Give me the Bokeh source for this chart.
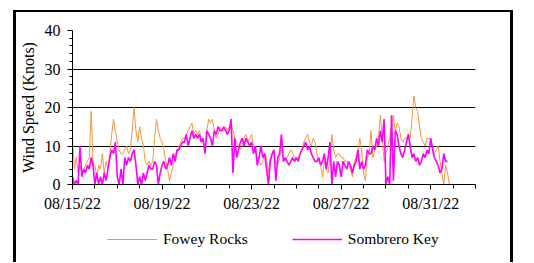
import pandas as pd
from bokeh.plotting import figure
from bokeh.layouts import column
from bokeh.models import (FixedTicker, DatetimeTickFormatter, Legend, LegendItem,
                          Range1d)
from bokeh.embed import file_html
from bokeh.resources import INLINE

# ---- data (2-hourly readings, knots) ----
start = "2022-08-15 00:00"
fowey_rocks = [
    12, 4, 7, 3, 5, 3, 4, 5, 6, 7, 19, 6,
    5, 2, 5, 4, 8, 3, 6, 4, 8, 13, 17, 14,
    11, 9, 8, 8, 9, 10, 8, 9, 14, 20, 14, 11,
    15, 12, 10, 6, 5, 6, 5, 6, 12, 17, 14, 12,
    11, 9, 6, 4, 1, 3, 5, 8, 8, 10, 11, 12,
    12, 13, 14, 15, 16, 13, 14, 13, 14, 12, 11, 9,
    14, 17, 16, 17, 14, 12, 13, 15, 14, 14, 15, 14,
    15, 16, 14, 12, 11, 10, 9, 10, 12, 13, 11, 12,
    13, 10, 9, 7, 6, 5, 6, 8, 7, 3, 7, 8,
    8, 6, 5, 7, 9, 7, 6, 7, 8, 9, 8, 7,
    7, 7, 8, 9, 11, 12, 13, 11, 10, 12, 11, 8,
    6, 5, 2, 6, 4, 3, 7, 13, 9, 7, 8, 8,
    7, 7, 6, 6, 5, 4, 2, 6, 7, 9, 12, 9,
    3, 1, 7, 8, 14, 7, 9, 10, 12, 18, 12, 6,
    8, 10, 12, 15, 18, 14, 16, 15, 12, 11, 12, 12,
    13, 12, 17, 23, 20, 19, 15, 12, 11, 10, 12, 12,
    12, 10, 8, 9, 10, 6, 3, 0, 5, 3, 0,
]
sombrero_key = [
    2, 0, 1, 0, 10, 2, 4, 3, 5, 4, 7, 5,
    0, 3, 0, 2, 0, 3, 1, 4, 7, 9, 8, 11,
    2, 0, 4, 0, 7, 5, 7, 6, 8, 9, 5, 0,
    2, 0, 3, 1, 3, 5, 4, 4, 6, 5, 0, 3,
    5, 6, 4, 5, 7, 5, 8, 6, 9, 9, 10, 11,
    11, 13, 10, 12, 14, 12, 13, 12, 13, 11, 12, 8,
    14, 13, 12, 10, 14, 13, 15, 14, 14, 15, 14, 13,
    14, 17, 3, 12, 7, 9, 11, 12, 10, 12, 11, 10,
    11, 8, 10, 5, 7, 10, 7, 8, 4, 0, 6, 8,
    9, 1, 7, 8, 13, 6, 7, 6, 5, 6, 7, 6,
    7, 6, 8, 9, 10, 11, 9, 10, 8, 7, 6, 6,
    7, 5, 6, 8, 4, 7, 11, 0, 6, 2, 6, 5,
    2, 6, 5, 4, 6, 5, 3, 5, 6, 9, 4, 6,
    4, 5, 9, 8, 8, 10, 9, 12, 10, 14, 11, 17,
    0, 2, 0, 18, 1, 14, 13, 10, 8, 7, 9, 11,
    13, 10, 7, 8, 6, 7, 5, 6, 8, 7, 9, 8,
    12, 9, 7, 6, 5, 3, 4, 8, 6, 6,
]
series_names = ["Fowey Rocks", "Sombrero Key"]
series_colors = ["#F7963F", "#FF00FF"]
series_widths = [1, 1.6]
y_title = "Wind Speed (Knots)"
x_tick_dates = ["2022-08-15", "2022-08-19", "2022-08-23", "2022-08-27", "2022-08-31"]
y_ticks = [0, 10, 20, 30, 40]
y_minor = [2, 4, 6, 8, 12, 14, 16, 18, 22, 24, 26, 28, 32, 34, 36, 38]
x_start, x_end = "2022-08-15", "2022-09-02"

t_fowey = pd.date_range(start, periods=len(fowey_rocks), freq="2h")
t_somb = pd.date_range(start, periods=len(sombrero_key), freq="2h")

FONT = "Liberation Serif, serif"


def ms(d):
    return pd.Timestamp(d).value / 1e6


# ---------------- main chart ----------------
p = figure(width=500, height=202, x_axis_type="datetime",
           output_backend="svg", toolbar_location=None, title=None,
           min_border_left=56, min_border_right=41,
           min_border_top=18, min_border_bottom=30,
           x_range=Range1d(ms(x_start), ms(x_end)),
           y_range=Range1d(0, 40))
p.styles = {"border-left": "3px solid black", "border-top": "2px solid black",
            "border-right": "3px solid black", "margin-left": "13px",
            "margin-top": "10px"}
p.outline_line_color = None
p.background_fill_color = "white"
p.border_fill_color = "white"

p.line(t_fowey, fowey_rocks, line_color=series_colors[0],
       line_width=series_widths[0])
p.line(t_somb, sombrero_key, line_color=series_colors[1],
       line_width=series_widths[1])

days = pd.date_range(x_start, x_end, freq="D")
p.xaxis.ticker = FixedTicker(ticks=[ms(d) for d in x_tick_dates],
                             minor_ticks=[ms(d) for d in days])
fmt = "%m/%d/%y"
p.xaxis.formatter = DatetimeTickFormatter(days=fmt, months=fmt, hours=fmt,
                                          years=fmt, hourmin=fmt)
p.yaxis.ticker = FixedTicker(ticks=y_ticks, minor_ticks=y_minor)

for ax in (p.xaxis[0], p.yaxis[0]):
    ax.axis_line_color = "black"
    ax.major_tick_line_color = "black"
    ax.minor_tick_line_color = "black"
    ax.major_tick_in = 0
    ax.minor_tick_in = 0
    ax.major_label_text_font = FONT
    ax.major_label_text_font_size = "16px"
    ax.major_label_text_color = "black"
p.xaxis.major_tick_out = 5
p.xaxis.minor_tick_out = 4
p.xaxis.major_label_standoff = 5
p.yaxis.major_tick_out = 5
p.yaxis.minor_tick_out = 3
p.yaxis.major_label_standoff = 7

p.yaxis.axis_label = y_title
p.yaxis.axis_label_text_font = FONT
p.yaxis.axis_label_text_font_size = "16px"
p.yaxis.axis_label_text_font_style = "normal"
p.yaxis.axis_label_text_color = "black"
p.yaxis.axis_label_standoff = 5

p.xgrid.grid_line_color = None
p.ygrid.grid_line_color = "black"
p.ygrid.grid_line_width = 1

# ---------------- legend strip (frame aligns with the chart frame) ----------------
q = figure(width=500, height=50, x_axis_type="datetime", output_backend="svg",
           toolbar_location=None, title=None, min_border=0,
           x_axis_location=None, y_axis_location=None,
           x_range=Range1d(0, 1), y_range=Range1d(-100, -99))
q.styles = {"border-left": "3px solid black", "border-right": "3px solid black",
            "margin-left": "13px"}
q.grid.visible = False
q.outline_line_color = None
q.background_fill_color = "white"
q.border_fill_color = "white"
# same series, outside this strip's ranges: only their legend samples show
k1 = q.line(t_fowey, fowey_rocks, line_color=series_colors[0],
            line_width=series_widths[0])
k2 = q.line(t_somb, sombrero_key, line_color=series_colors[1],
            line_width=series_widths[1])

legend = Legend(items=[LegendItem(label=series_names[0], renderers=[k1]),
                       LegendItem(label=series_names[1], renderers=[k2])],
                location=(35, 13), orientation="horizontal",
                glyph_width=50, label_standoff=6, spacing=44,
                padding=0, margin=0, border_line_color=None,
                background_fill_alpha=0,
                label_text_font=FONT, label_text_font_size="15.5px",
                label_text_color="black")
q.add_layout(legend, "center")

layout = column(p, q, spacing=0)
open("out.html", "w").write(file_html(layout, INLINE))
